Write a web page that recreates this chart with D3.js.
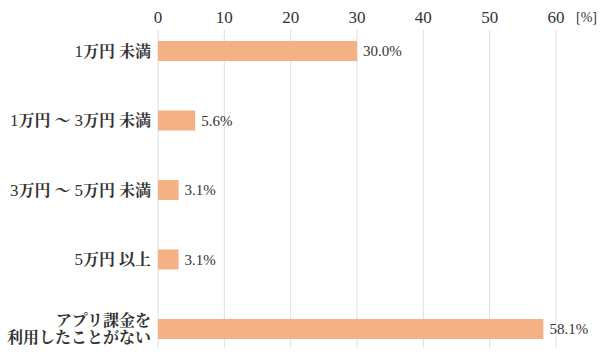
<!DOCTYPE html>
<html>
<head>
<meta charset="utf-8">
<script src="https://cdn.jsdelivr.net/npm/d3@7"></script>
<style>
  body { margin: 0; background: #fff; }
  text { font-family: "Liberation Serif", "Noto Serif CJK JP", "Noto Sans CJK JP", serif; fill: #333; }
</style>
</head>
<body>
<script>
// 绘制区域
const width = 600;
const height = 359;

const categories = [
  ['1万円 未満'],
  ['1万円 ～ 3万円 未満'],
  ['3万円 ～ 5万円 未満'],
  ['5万円 以上'],
  ['アプリ課金を', '利用したことがない']
];
const values = [30.0, 5.6, 3.1, 3.1, 58.1];
const ticks = [0, 10, 20, 30, 40, 50, 60];

const barHeight = 20;

const svg = d3.select('body').append('svg')
  .attr('width', width).attr('height', height);

const x = d3.scaleLinear().domain([0, 60]).range([158, 556]);
const y = d3.scalePoint().domain(d3.range(values.length)).range([51, 329]);

// 网格线
svg.selectAll('line.grid')
  .data(ticks)
  .enter()
  .append('line')
  .attr('x1', d => x(d)).attr('x2', d => x(d))
  .attr('y1', 30).attr('y2', 348)
  .attr('stroke', '#dedede')
  .attr('stroke-width', 1);

// 刻度标签
svg.selectAll('text.tick')
  .data(ticks)
  .enter()
  .append('text')
  .attr('x', d => x(d))
  .attr('y', 23)
  .attr('text-anchor', 'middle')
  .attr('font-size', '17px')
  .text(d => d);

svg.append('text')
  .attr('x', 576).attr('y', 22)
  .attr('font-size', '14px')
  .text('[%]');

// 矩形
svg.selectAll('rect')
  .data(values)
  .enter()
  .append('rect')
  .attr('x', x(0))
  .attr('y', (d, i) => y(i) - barHeight / 2)
  .attr('width', d => x(d) - x(0))
  .attr('height', barHeight)
  .attr('fill', '#f4b183');

// 数值标签
svg.selectAll('text.val')
  .data(values)
  .enter()
  .append('text')
  .attr('x', d => x(d) + 6)
  .attr('y', (d, i) => y(i))
  .attr('dy', '0.35em')
  .attr('font-size', '15px')
  .text(d => d.toFixed(1) + '%');

// 类别标签
const lines = svg.selectAll('g.cat')
  .data(categories)
  .enter()
  .append('g')
  .attr('transform', (d, i) => 'translate(151,' + y(i) + ')')
  .selectAll('text')
  .data(d => d.map((t, j) => ({ t, j, n: d.length })))
  .enter()
  .append('text')
  .attr('text-anchor', 'end')
  .attr('font-size', '16px')
  .attr('y', d => (d.j - (d.n - 1) / 2) * 17)
  .attr('dy', '0.35em');

// 数字正常, 汉字加粗
lines.selectAll('tspan')
  .data(d => d.t.split(/([0-9]+)/).filter(s => s.length))
  .enter()
  .append('tspan')
  .attr('font-weight', s => /^[0-9]+$/.test(s) ? 'normal' : 'bold')
  .attr('font-size', s => /^[0-9]+$/.test(s) ? '17px' : '16px')
  .text(s => s);
</script>
</body>
</html>
